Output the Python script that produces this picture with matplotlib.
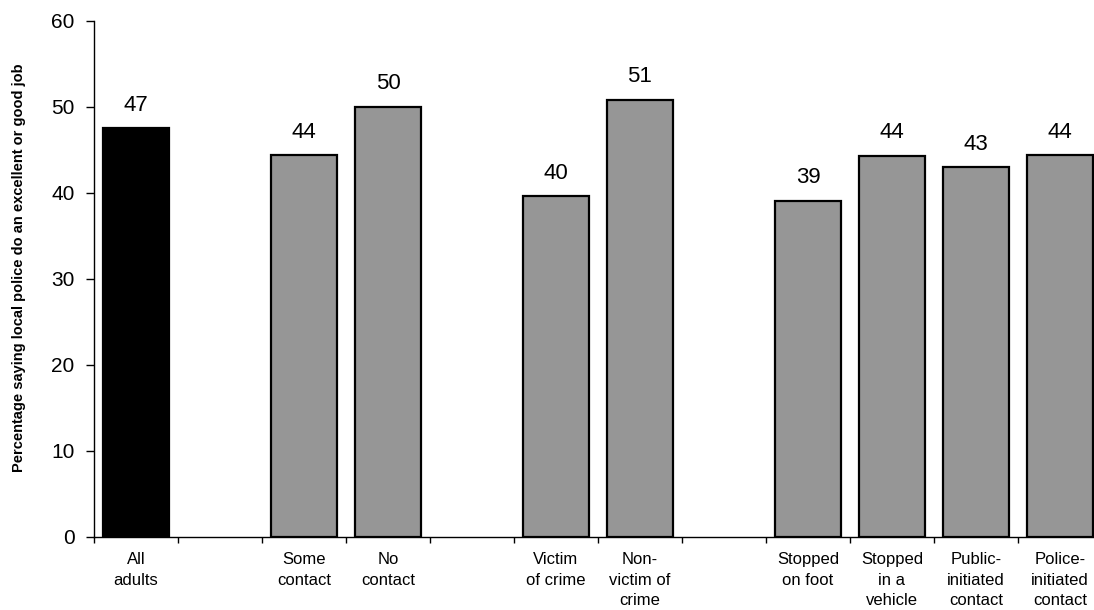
import numpy as np
import matplotlib
matplotlib.use("Agg")
import matplotlib.pyplot as plt

plt.rcParams['font.family'] = ['Liberation Sans', 'DejaVu Sans']

### data ###
labels = ["All\nadults", "", "Some\ncontact", "No\ncontact", "",
          "Victim\nof crime", "Non-\nvictim of\ncrime", "",
          "Stopped\non foot", "Stopped\nin a\nvehicle",
          "Public-\ninitiated\ncontact", "Police-\ninitiated\ncontact"]
values = [47.5, None, 44.4, 50.0, None, 39.6, 50.8, None, 39.1, 44.3, 43.0, 44.4]
shown = ["47", "", "44", "50", "", "40", "51", "", "39", "44", "43", "44"]
colours = ["black", None, "#969696", "#969696", None, "#969696", "#969696", None,
           "#969696", "#969696", "#969696", "#969696"]

fig = plt.figure(figsize=(10.94, 6.10), dpi=100)
# the right end of the axis is cut off by the picture edge
ax = fig.add_axes([0.0859, 0.1197, 0.9214, 0.8464])

centres = np.arange(len(labels)) + 0.5
for x, v, s, c in zip(centres, values, shown, colours):
    if v is None:
        continue
    ax.bar(x, v, width=0.78, color=c, edgecolor="black", linewidth=1.6, zorder=2)
    ax.annotate(s, (x, v), xytext=(0, 12.5), textcoords="offset points",
                ha="center", va="baseline", fontsize=16)

ax.set_xlim(0, len(labels))
ax.set_ylim(0, 60)
ax.set_yticks(np.arange(0, 61, 10))
ax.tick_params(axis="y", labelsize=15, length=6, width=1, pad=8)

# boundary ticks, labels sit between them
ax.set_xticks(np.arange(0, len(labels)))
ax.set_xticklabels([])
ax.set_xticks(centres, minor=True)
ax.set_xticklabels(labels, minor=True, fontsize=12, linespacing=1.45)
ax.tick_params(axis="x", which="major", length=4, width=1, direction="out")
ax.tick_params(axis="x", which="minor", length=0, pad=11)

for side in ["top", "right"]:
    ax.spines[side].set_visible(False)
ax.spines["left"].set_linewidth(1)
ax.spines["bottom"].set_linewidth(1)

fig.text(0.0175, 0.5615, "Percentage saying local police do an excellent or good job",
         rotation=90, ha="center", va="center", fontsize=10.5, weight="bold",
         family=["Liberation Sans Narrow", "Liberation Sans"])

fig.savefig("out.png", dpi=100)
